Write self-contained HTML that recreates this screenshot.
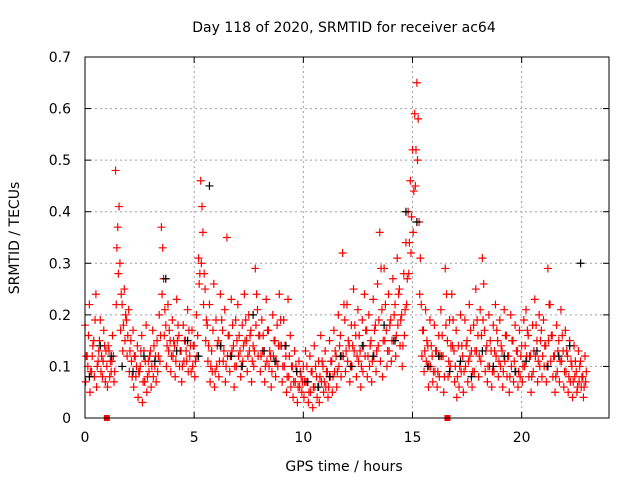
<!DOCTYPE html>
<html><head><meta charset="utf-8"><style>
body{margin:0;background:#fff;}
svg{display:block;font-family:"DejaVu Sans","Liberation Sans",sans-serif;}
</style></head><body>
<svg id="chart" width="640" height="480">
<text x="344" y="32" font-size="14" text-anchor="middle">Day 118 of 2020, SRMTID for receiver ac64</text>
<text x="344" y="471" font-size="14" text-anchor="middle">GPS time / hours</text>
<text transform="translate(19,238) rotate(-90)" font-size="14" text-anchor="middle">SRMTID / TECUs</text>
<g id="grid"></g>
<g id="ticks"></g>
<g id="marksA"></g>
<g id="marksB"></g>
<g id="marksC"></g>
<g id="marksK"></g>
<rect x="85" y="57" width="524" height="361" fill="none" stroke="#000" stroke-width="1"/>
</svg>
<script>
const xTicks=[0,5,10,15,20];
const yTicks=[0,0.1,0.2,0.3,0.4,0.5,0.6,0.7];
const yTickLabels=["0","0.1","0.2","0.3","0.4","0.5","0.6","0.7"];
const tStart=0, tStep=0.1;
const seriesA=[.18,.12,.22,.09,.15,.24,.11,.19,.08,.14,
.10,.13,.09,.12,.48,.37,.30,.22,.25,.19,
.21,.15,.17,.12,.14,.09,.16,.13,.18,.11,
.13,.17,.10,.15,.20,.37,.27,.18,.22,.15,
.19,.14,.23,.16,.13,.18,.15,.21,.12,.17,
.14,.20,.31,.46,.36,.25,.18,.22,.13,.26,
.19,.15,.24,.17,.21,.35,.16,.23,.14,.19,
.22,.13,.18,.24,.15,.20,.17,.14,.29,.21,
.16,.19,.13,.23,.17,.12,.20,.15,.18,.24,
.14,.19,.12,.23,.16,.10,.13,.09,.11,.08,
.10,.13,.07,.12,.09,.14,.08,.11,.16,.10,
.13,.09,.15,.11,.17,.12,.20,.16,.32,.19,
.22,.14,.18,.25,.16,.21,.13,.19,.24,.17,
.20,.15,.23,.18,.26,.36,.21,.29,.17,.24,
.19,.27,.22,.31,.25,.20,.28,.34,.40,.46,
.52,.59,.65,.38,.22,.17,.21,.14,.19,.12,
.18,.13,.16,.21,.12,.29,.15,.19,.24,.13,
.17,.14,.20,.12,.19,.15,.22,.13,.18,.25,
.16,.21,.31,.17,.14,.20,.13,.18,.22,.15,
.19,.13,.21,.16,.12,.20,.15,.18,.13,.17,
.14,.19,.21,.16,.12,.18,.23,.15,.20,.17,
.19,.14,.29,.22,.16,.12,.18,.15,.21,.13,
.17,.12,.15,.10,.14,.09,.13,.11,.08,.12];
const seriesB=[.07,.10,.05,.12,.08,.06,.13,.09,.11,.07,
.06,.08,.11,.07,.22,.28,.17,.13,.15,.12,
.09,.11,.06,.08,.04,.10,.03,.07,.05,.09,
.06,.08,.12,.09,.11,.24,.16,.10,.13,.09,
.12,.08,.15,.10,.07,.11,.13,.09,.14,.10,
.08,.12,.26,.30,.22,.15,.11,.07,.09,.06,
.10,.08,.14,.11,.07,.12,.09,.13,.06,.10,
.12,.08,.11,.15,.09,.13,.07,.10,.18,.12,
.09,.13,.07,.11,.10,.06,.12,.08,.10,.14,
.07,.10,.05,.08,.06,.04,.07,.03,.06,.05,
.04,.07,.03,.05,.02,.06,.04,.03,.07,.05,
.06,.04,.08,.05,.09,.06,.10,.08,.12,.09,
.11,.07,.10,.13,.08,.11,.06,.09,.12,.08,
.10,.07,.12,.09,.14,.11,.08,.15,.10,.13,
.11,.15,.12,.18,.14,.10,.16,.22,.28,.32,
.36,.45,.50,.24,.12,.09,.11,.06,.10,.07,
.09,.06,.08,.12,.05,.18,.08,.10,.14,.07,
.04,.06,.09,.05,.10,.07,.12,.06,.09,.13,
.08,.11,.19,.09,.07,.10,.06,.09,.12,.08,
.10,.06,.11,.08,.05,.10,.07,.09,.06,.08,
.07,.10,.12,.08,.05,.09,.12,.07,.10,.08,
.10,.07,.15,.11,.08,.05,.09,.07,.11,.06,
.09,.05,.07,.04,.08,.05,.07,.06,.04,.07];
const seriesC=[.12,.16,.09,.14,.19,.10,.15,.12,.17,.13,
.14,.11,.16,.09,.33,.41,.24,.18,.20,.16,
.13,.08,.12,.10,.09,.13,.07,.11,.08,.12,
.10,.14,.07,.12,.16,.33,.21,.14,.17,.12,
.15,.11,.18,.13,.10,.15,.11,.17,.09,.14,
.11,.16,.28,.41,.28,.19,.14,.10,.17,.09,
.14,.11,.19,.13,.10,.16,.12,.18,.10,.15,
.16,.10,.14,.19,.12,.16,.11,.13,.24,.16,
.12,.16,.10,.17,.13,.09,.15,.11,.14,.19,
.10,.14,.08,.12,.10,.07,.10,.06,.09,.07,
.07,.10,.05,.09,.06,.10,.06,.08,.11,.07,
.09,.06,.11,.08,.13,.09,.14,.12,.22,.13,
.15,.10,.14,.18,.12,.16,.10,.14,.17,.12,
.14,.11,.17,.13,.19,.29,.15,.22,.13,.18,
.15,.20,.16,.24,.19,.14,.21,.27,.34,.39,
.44,.52,.58,.31,.17,.13,.15,.10,.14,.09,
.13,.09,.12,.16,.08,.24,.11,.14,.19,.10,
.08,.10,.14,.09,.14,.11,.17,.09,.13,.19,
.12,.16,.26,.13,.10,.15,.09,.13,.17,.11,
.14,.09,.16,.12,.08,.15,.11,.13,.09,.12,
.10,.14,.17,.12,.08,.13,.18,.11,.15,.12,
.14,.10,.22,.16,.12,.08,.13,.11,.16,.09,
.13,.08,.11,.07,.11,.06,.10,.08,.06,.09];
const kStep=0.5;
const seriesK=[.08,.14,.12,.10,.09,.12,.11,.27,.13,.15,.12,.45,.14,.12,.10,.20,.13,.11,.14,.09,.07,.06,.08,.12,.10,.14,.12,.18,.15,.40,.38,.10,.12,.09,.11,.08,.13,.10,.12,.09,.11,.13,.10,.12,.14,.30];
const gapMarks=[1.0,16.6];

const NS="http://www.w3.org/2000/svg";
const X0=85,X1=609,Y0=418,Y1=57,XMAX=24,YMAX=0.7;
const xs=v=>X0+(X1-X0)*v/XMAX;
const ys=v=>Y0-(Y0-Y1)*v/YMAX;
function mk(tag,attrs,parent){const e=document.createElementNS(NS,tag);for(const k in attrs)e.setAttribute(k,attrs[k]);parent.appendChild(e);return e;}
const grid=document.getElementById('grid'),ticks=document.getElementById('ticks');
xTicks.forEach((t,i)=>{
  const x=xs(t);
  if(t>0){const g=mk('line',{x1:x,x2:x,y1:Y0,y2:Y1,stroke:'#a0a0a0','stroke-dasharray':'2,3'},grid);
  
  }
  mk('line',{x1:x,x2:x,y1:Y0,y2:Y0-6,stroke:'#000'},ticks);
  mk('line',{x1:x,x2:x,y1:Y1,y2:Y1+6,stroke:'#000'},ticks);
  const tx=mk('text',{x:x,y:Y0+24,'font-size':14,'text-anchor':'middle'},ticks);
  tx.textContent=String(t);
  
  
});
yTicks.forEach((v,i)=>{
  const y=ys(v);
  if(v>0&&v<YMAX){const g=mk('line',{x1:X0,x2:X1,y1:y,y2:y,stroke:'#a0a0a0','stroke-dasharray':'2,3'},grid);
  
  }
  mk('line',{x1:X0,x2:X0+6,y1:y,y2:y,stroke:'#000'},ticks);
  mk('line',{x1:X1,x2:X1-6,y1:y,y2:y,stroke:'#000'},ticks);
  const tx=mk('text',{x:71,y:y+5,'font-size':14,'text-anchor':'end'},ticks);
  tx.textContent=yTickLabels[i];
  
  
});
function plus(g,t,v,col){
  const x=xs(t),y=ys(v);
  const p=mk('path',{d:`M${x-4},${y}h8M${x},${y-4}v8`,stroke:col,'stroke-width':1.2,fill:'none'},g);
  
  
}
const gA=document.getElementById('marksA'),gB=document.getElementById('marksB'),gC=document.getElementById('marksC'),gK=document.getElementById('marksK');
seriesK.forEach((v,i)=>plus(gK,tStart+i*kStep+0.2,v,'#000'));
seriesA.forEach((v,i)=>plus(gA,tStart+i*tStep,v,'#f00'));
seriesB.forEach((v,i)=>plus(gB,tStart+i*tStep+0.03,v,'#f00'));
seriesC.forEach((v,i)=>plus(gC,tStart+i*tStep+0.06,v,'#f00'));
gapMarks.forEach(t=>{
  const r=mk('rect',{x:xs(t)-3,y:Y0-3,width:6,height:6,fill:'#f00'},ticks);
  
  
});
</script>
</body></html>
